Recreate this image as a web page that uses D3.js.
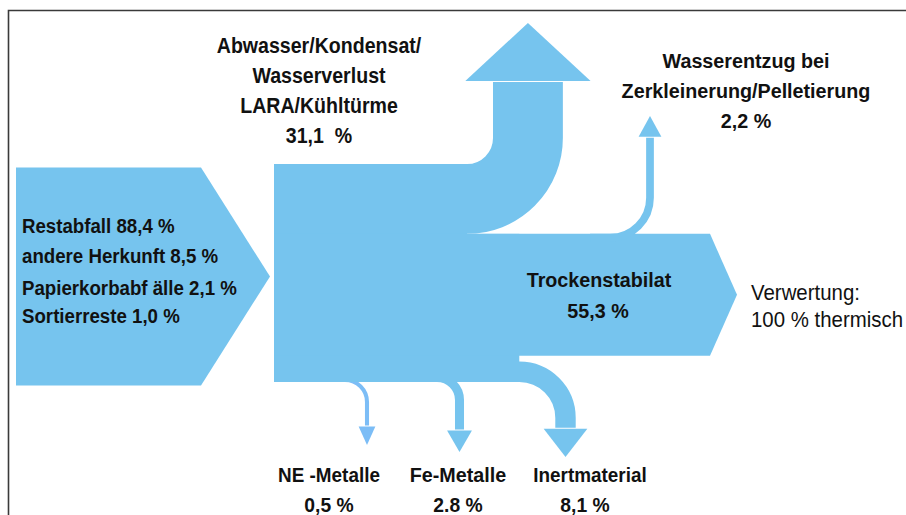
<!DOCTYPE html>
<html><head><meta charset="utf-8">
<script src="https://cdn.jsdelivr.net/npm/d3@7/dist/d3.min.js"></script>
<style>html,body{margin:0;padding:0;background:#fff;overflow:hidden}</style>
</head><body>
<svg id="chart" width="906" height="515"></svg>
<script>
// ---------------- data ----------------
const sourceNames  = ["Restabfall", "andere Herkunft", "Papierkorbabf älle", "Sortierreste"];
const sourceValues = [88.4, 8.5, 2.1, 1.0];
const sourceLabels = ["88,4 %", "8,5 %", "2,1 %", "1,0 %"];

const outKeys   = ["wasser", "entzug", "stabilat", "ne", "fe", "inert"];
const outNames  = [
  ["Abwasser/Kondensat/", "Wasserverlust", "LARA/Kühltürme"],
  ["Wasserentzug bei", "Zerkleinerung/Pelletierung"],
  ["Trockenstabilat"],
  ["NE -Metalle"],
  ["Fe-Metalle"],
  ["Inertmaterial"]
];
const outValues = [31.1, 2.2, 55.3, 0.5, 2.8, 8.1];
const outLabels = ["31,1\u00a0 %", "2,2 %", "55,3 %", "0,5 %", "2.8 %", "8,1 %"];

const destLines = ["Verwertung:", "100 % thermisch"];

// ---------------- setup ----------------
const svg = d3.select("#chart");
const FILL = "#76c4ee";
const total = d3.sum(sourceValues);
const w = d3.scaleLinear().domain([0, 100]).range([3, 218]);
const val = k => outValues[outKeys.indexOf(k)];

// frame
svg.append("path").attr("d", "M8.5,515 V10.5 H906")
  .attr("fill", "none").attr("stroke", "#3a3a3a").attr("stroke-width", 1.6);

const g = svg.append("g");

// layout (positions)
const inX0 = 16, inX1 = 201, inTip = 270, inCy = 276.5;
const bX0 = 274, bTop = 164;
const bBottom = bTop + w(total);
const upTurnX = 467;

// input pentagon
const inH = w(total);
g.append("path")
  .attr("d", d3.line()([[inX0, inCy - inH/2], [inX1, inCy - inH/2], [inTip, inCy],
                        [inX1, inCy + inH/2], [inX0, inCy + inH/2]]) + "Z")
  .attr("fill", FILL);

// flow widths
const wUp = w(val("wasser"));
const wSt = w(val("stabilat"));
const wEn = w(val("entzug"));
const stTop = bTop + wUp, stBottom = stTop + wSt;

const headW = ww => 1.65 * ww + 10;
const headH = ww => 0.6 * ww + 16;

// down flows definitions (layout)
const downFlows = [
  {key: "ne",    X: 367,   ri: 20, tip: 445, color: "#7cbdf6"},
  {key: "fe",    X: 459.5, ri: 18, tip: 452, color: FILL},
  {key: "inert", X: 565.5, ri: 36, tip: 457, color: FILL}
];
downFlows.forEach(d => { d.w = w(val(d.key)); d.r = d.ri + d.w/2; });
const inert = downFlows[2];

// main block
g.append("rect").attr("x", bX0).attr("y", bTop).attr("width", upTurnX - bX0).attr("height", bBottom - bTop).attr("fill", FILL);
g.append("rect").attr("x", bX0).attr("y", stTop).attr("width", inert.X - inert.r - bX0).attr("height", bBottom - stTop).attr("fill", FILL);

// Trockenstabilat arrow
const stX1 = 710, stTip = 737;
g.append("path")
  .attr("d", d3.line()([[bX0, stTop], [stX1, stTop], [stTip, (stTop + stBottom)/2], [stX1, stBottom], [bX0, stBottom]]) + "Z")
  .attr("fill", FILL);

// up flow (Abwasser)
{
  const yh = bTop + wUp/2, r = 26 + wUp/2, X = upTurnX + r, tip = 23;
  const base = tip + headH(wUp);
  const p = d3.path();
  p.moveTo(bX0, yh); p.lineTo(upTurnX, yh);
  p.arc(upTurnX, yh - r, r, Math.PI/2, 0, true);
  p.lineTo(X, base + 1);
  g.append("path").attr("d", p.toString()).attr("fill", "none").attr("stroke", FILL).attr("stroke-width", wUp);
  const hw = headW(wUp);
  g.append("path").attr("d", d3.line()([[X - hw/2, base], [X + hw/2, base], [X, tip]]) + "Z").attr("fill", FILL);
}

// small up flow (Wasserentzug)
{
  const X = 650, r = 36 + wEn/2, yh = stTop + wEn/2, tip = 116;
  const base = tip + headH(wEn);
  const p = d3.path();
  p.moveTo(X - r - 20, yh); p.lineTo(X - r, yh);
  p.arc(X - r, yh - r, r, Math.PI/2, 0, true);
  p.lineTo(X, base + 1);
  g.append("path").attr("d", p.toString()).attr("fill", "none").attr("stroke", FILL).attr("stroke-width", wEn);
  const hw = headW(wEn);
  g.append("path").attr("d", d3.line()([[X - hw/2, base], [X + hw/2, base], [X, tip]]) + "Z").attr("fill", FILL);
}

// down flows
downFlows.forEach(d => {
  const yh = bBottom - d.w/2;
  const base = d.tip - headH(d.w);
  const p = d3.path();
  p.moveTo(bX0 + 10, yh); p.lineTo(d.X - d.r, yh);
  p.arc(d.X - d.r, yh + d.r, d.r, -Math.PI/2, 0, false);
  p.lineTo(d.X, base - 1);
  g.append("path").attr("d", p.toString()).attr("fill", "none").attr("stroke", d.color).attr("stroke-width", d.w);
  const hw = headW(d.w);
  g.append("path").attr("d", d3.line()([[d.X - hw/2, base], [d.X + hw/2, base], [d.X, d.tip]]) + "Z").attr("fill", d.color);
});

// ---------------- text ----------------
const T = svg.append("g").attr("fill", "#111");
function txt(x, y, s, opt = {}) {
  const t = T.append("text")
    .attr("transform", `translate(${x},${y}) scale(${opt.sx ?? 0.91},1)`)
    .attr("text-anchor", opt.anchor || "middle")
    .attr("font-family", "'Liberation Sans', Arial, sans-serif")
    .attr("font-size", opt.size || 21)
    .attr("font-weight", opt.weight || "bold")
    .text(s);
  if (opt.fill) t.attr("fill", opt.fill);
  return t;
}

// sources
sourceNames.forEach((n, i) => {
  txt(22, [233, 263, 295, 323][i], `${n} ${sourceLabels[i]}`, {anchor: "start", sx: 0.89});
});

// Abwasser label
const lh = 30;
outNames[0].concat([outLabels[0]]).forEach((s, i) => txt(319, 53 + i * lh, s, {size: 22, sx: 0.89}));
// Wasserentzug label
outNames[1].concat([outLabels[1]]).forEach((s, i) => txt(746, 68 + i * 30, s, {sx: 0.94}));
// Trockenstabilat
txt(599, 287, outNames[2][0], {sx: 0.94});
txt(598, 318, outLabels[2], {sx: 0.94});
// bottom labels
const bottomCx = {ne: 329, fe: 458, inert: 590};
["ne", "fe", "inert"].forEach(k => {
  const i = outKeys.indexOf(k);
  txt(bottomCx[k], 482, outNames[i][0], {sx: k === "fe" ? 0.94 : 0.9});
  txt(bottomCx[k] - (k === "inert" ? 5 : 0), 512, outLabels[i], {sx: 0.92});
});
// destination
destLines.forEach((s, i) => txt(751, 300 + i * 27, s, {anchor: "start", weight: "normal", size: 21.5, sx: 0.95}));
</script>
</body></html>
